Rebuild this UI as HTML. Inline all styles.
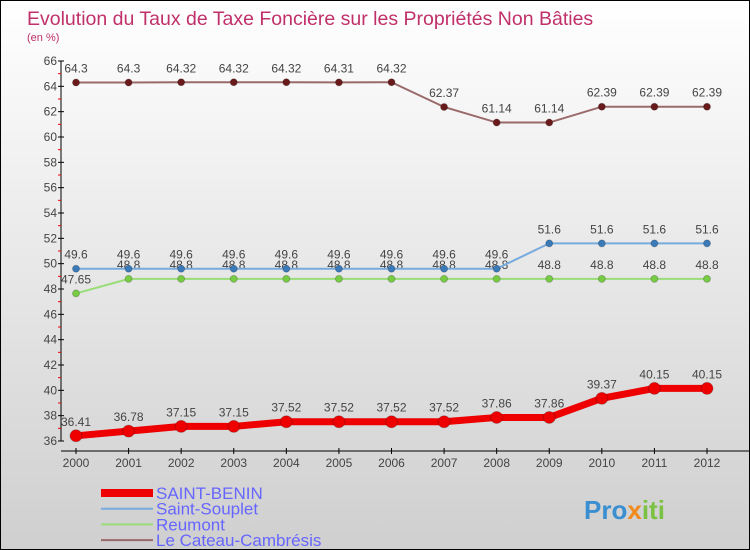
<!DOCTYPE html>
<html><head><meta charset="utf-8"><style>
body{margin:0;width:750px;height:550px;overflow:hidden;font-family:"Liberation Sans",sans-serif}
#wrap{position:absolute;left:0;top:0;width:748px;height:548px;border:1px solid #000;background:linear-gradient(#ffffff,#cfcfcf)}
</style></head><body>
<div id="wrap">
<svg id="chart" width="748" height="548" style="position:absolute;left:0;top:0">
<text x="26" y="24" font-size="19.5" fill="#c0306a">Evolution du Taux de Taxe Foncière sur les Propriétés Non Bâties</text>
<text x="26" y="40" font-size="11" fill="#c0306a">(en %)</text>
<g id="axes"></g><g id="series"></g><g id="legend"></g>
<text x="583" y="518" font-size="26" font-weight="bold" fill="#3a8fd0">Pro<tspan fill="#f08a1c">x</tspan><tspan fill="#7cc242">iti</tspan></text>
</svg></div>
<script>
const years=[2000,2001,2002,2003,2004,2005,2006,2007,2008,2009,2010,2011,2012];
const saintBenin=[36.41,36.78,37.15,37.15,37.52,37.52,37.52,37.52,37.86,37.86,39.37,40.15,40.15];
const saintSouplet=[49.6,49.6,49.6,49.6,49.6,49.6,49.6,49.6,49.6,51.6,51.6,51.6,51.6];
const reumont=[47.65,48.8,48.8,48.8,48.8,48.8,48.8,48.8,48.8,48.8,48.8,48.8,48.8];
const cateau=[64.3,64.3,64.32,64.32,64.32,64.31,64.32,62.37,61.14,61.14,62.39,62.39,62.39];
const yTicks=[36,38,40,42,44,46,48,50,52,54,56,58,60,62,64,66];
const seriesNames=["SAINT-BENIN","Saint-Souplet","Reumont","Le Cateau-Cambrésis"];
const NS="http://www.w3.org/2000/svg";
const yMin=36,yMax=66,yTop=60,yBot=440,xL=75,xR=706;
const ys=v=>yBot-(v-yMin)/(yMax-yMin)*(yBot-yTop);
const xs=i=>xL+i*(xR-xL)/(years.length-1);
function mk(t,a,p){const e=document.createElementNS(NS,t);for(const k in a)e.setAttribute(k,a[k]);p.appendChild(e);return e;}
const ax=document.getElementById('axes');
let e=mk('line',{x1:60,y1:yTop,x2:60,y2:yBot,stroke:'#000'},ax);

e=mk('line',{x1:60,y1:450,x2:748,y2:450,stroke:'#000'},ax);

yTicks.forEach(v=>{
 mk('line',{x1:57,x2:63,y1:ys(v),y2:ys(v),stroke:'#000'},ax);
 if(v<yMax)mk('line',{x1:57,x2:60,y1:ys(v+1),y2:ys(v+1),stroke:'#e00'},ax);
 const t=mk('text',{x:56,y:ys(v)+4,'font-size':12,'text-anchor':'end',fill:'#444'},ax);t.textContent=v;
 
});
years.forEach((y,i)=>{
 mk('line',{x1:xs(i),x2:xs(i),y1:447,y2:453,stroke:'#000'},ax);
 const t=mk('text',{x:xs(i),y:466,'font-size':12,'text-anchor':'middle',fill:'#444'},ax);t.textContent=y;
 
});
const sg=document.getElementById('series');
function draw(vals,line,dot,w,r,name){
 const g=mk('g',{},sg);
 mk('polyline',{points:vals.map((v,i)=>xs(i)+','+ys(v)).join(' '),fill:'none',stroke:line,'stroke-width':w},g);
 vals.forEach((v,i)=>{
  const c=mk('circle',{cx:xs(i),cy:ys(v),r:r,fill:dot,stroke:'#0003'},g);
  
  const t=mk('text',{x:xs(i),y:ys(v)-10,'font-size':12,'text-anchor':'middle',fill:'#444'},g);t.textContent=v;
  
 });
}
draw(cateau,'#9a6a6a','#6a1a1a',2,3.5,'series-le-cateau');
draw(reumont,'#99dd77','#77cc44',2,3.5,'series-reumont');
draw(saintSouplet,'#77aadd','#3a7ab8',2,3.5,'series-saint-souplet');
draw(saintBenin,'#ee0000','#ee0000',7,6,'series-saint-benin');
const lg=document.getElementById('legend');
const lc=['#ee0000','#77aadd','#99dd77','#9a6a6a'],lw=[8,2,2,2];
seriesNames.forEach((n,i)=>{
 const y=492+i*15.7;
 const g=mk('g',{},lg);
 mk('line',{x1:100,x2:152,y1:y,y2:y,stroke:lc[i],'stroke-width':lw[i]},g);
 const t=mk('text',{x:155,y:y+6,'font-size':17,fill:'#6666ff'},g);t.textContent=n;
});
</script></body></html>
